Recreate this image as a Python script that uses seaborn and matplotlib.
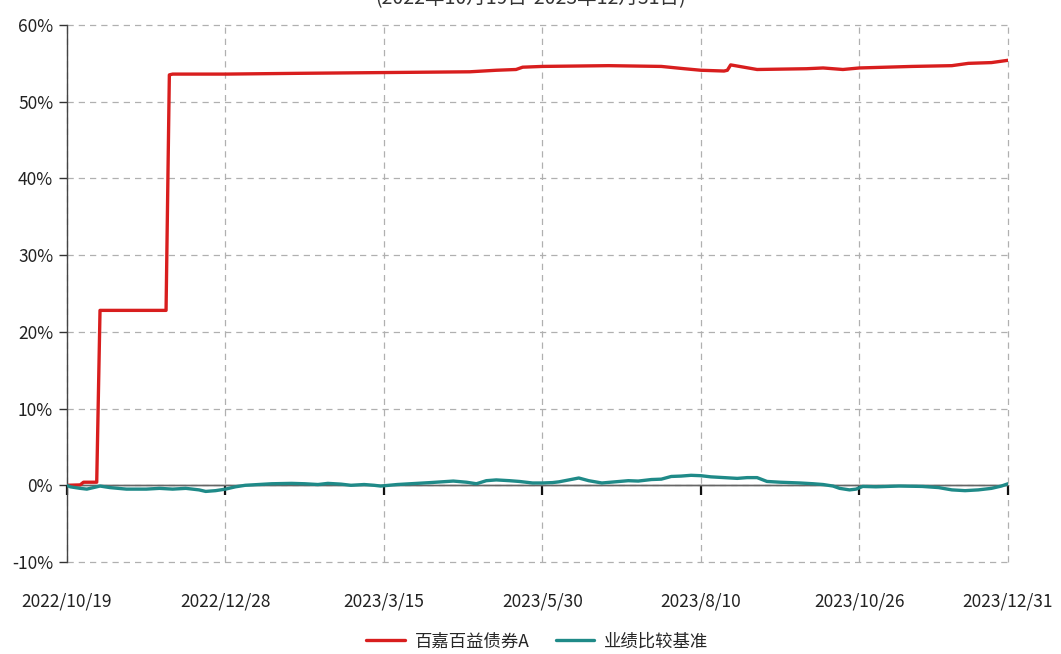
import matplotlib
matplotlib.use("Agg")
import matplotlib.pyplot as plt
import seaborn as sns
import pandas as pd

# ---- data (trading-day index, cumulative return in %) ----
fund_name = "百嘉百益债券A"
bench_name = "业绩比较基准"

fund_idx = [0, 4, 5, 9, 10, 30, 31, 32, 48, 70, 96, 122, 130, 136, 138, 144, 164,
            180, 187, 192, 199, 200, 201, 209, 224, 229, 235, 240, 256, 268, 273, 280, 285]
fund_val = [0.0, 0.05, 0.4, 0.4, 22.8, 22.8, 53.5, 53.6, 53.6, 53.7, 53.8, 53.9, 54.1,
            54.2, 54.5, 54.6, 54.7, 54.6, 54.3, 54.1, 54.0, 54.1, 54.8, 54.2, 54.3, 54.4,
            54.2, 54.4, 54.6, 54.7, 55.0, 55.1, 55.4]

bench_idx = [0, 1, 4, 6, 8, 10, 13, 18, 24, 28, 32, 36, 40, 42, 45, 48, 51, 54, 58, 62,
             68, 72, 76, 79, 83, 86, 90, 93, 95, 100, 104, 110, 117, 121, 124, 127, 130,
             134, 137, 141, 144, 147, 149, 152, 155, 158, 162, 166, 170, 173, 177, 180,
             183, 186, 189, 192, 195, 199, 203, 206, 209, 212, 216, 222, 226, 229, 232,
             234, 237, 239, 241, 245, 252, 259, 264, 268, 272, 276, 280, 283, 285]
bench_val = [0.0, -0.2, -0.4, -0.5, -0.3, -0.1, -0.3, -0.5, -0.5, -0.4, -0.5, -0.4, -0.6,
             -0.8, -0.7, -0.5, -0.2, 0.0, 0.1, 0.2, 0.25, 0.2, 0.1, 0.25, 0.15, 0.0, 0.1,
             0.0, -0.1, 0.1, 0.2, 0.35, 0.55, 0.4, 0.2, 0.6, 0.7, 0.6, 0.5, 0.3, 0.3, 0.35,
             0.45, 0.7, 0.95, 0.6, 0.3, 0.45, 0.6, 0.55, 0.75, 0.8, 1.15, 1.2, 1.3, 1.25,
             1.1, 1.0, 0.9, 1.0, 1.0, 0.5, 0.4, 0.3, 0.2, 0.1, -0.1, -0.4, -0.6, -0.5,
             -0.15, -0.2, -0.1, -0.15, -0.3, -0.6, -0.7, -0.6, -0.4, -0.1, 0.2]

tick_pos = [0, 48, 96, 144, 192, 240, 285]
tick_labels = ["2022/10/19", "2022/12/28", "2023/3/15", "2023/5/30",
               "2023/8/10", "2023/10/26", "2023/12/31"]
y_ticks = [-10, 0, 10, 20, 30, 40, 50, 60]
title = "(2022年10月19日-2023年12月31日)"

# ---- build frame ----
df = pd.concat([
    pd.DataFrame({"idx": fund_idx, "val": fund_val, "series": fund_name}),
    pd.DataFrame({"idx": bench_idx, "val": bench_val, "series": bench_name}),
], ignore_index=True)

sns.set_theme(style="white")
plt.rcParams["font.family"] = ["Noto Sans CJK SC", "DejaVu Sans"]
plt.rcParams["axes.unicode_minus"] = False

fig = plt.figure(figsize=(10.61, 6.54), dpi=100)
ax = fig.add_axes([67 / 1061, 1 - 562 / 654, (1008 - 67) / 1061, (562 - 25) / 654])

palette = {fund_name: "#d81e1e", bench_name: "#1f8a88"}
sns.lineplot(data=df, x="idx", y="val", hue="series", palette=palette,
             linewidth=2.4, ax=ax, hue_order=[fund_name, bench_name], zorder=3)

ax.set_xlim(0, 285)
ax.set_ylim(-10, 60)
ax.set_xlabel("")
ax.set_ylabel("")

ax.set_yticks(y_ticks)
ax.set_yticklabels([f"{v}%" for v in y_ticks], fontsize=12.5, color="#222222")
ax.set_xticks(tick_pos)
ax.set_xticklabels(tick_labels, fontsize=12.5, color="#222222")
ax.tick_params(axis="x", length=0, pad=22)
ax.tick_params(axis="y", length=6, width=1, color="#333333", direction="out", pad=4, left=True)

ax.set_axisbelow(True)
ax.grid(True, color="#b0b0b0", linestyle=(0, (5, 4)), linewidth=0.9)
for gl in ax.get_ygridlines() + ax.get_xgridlines():
    gl.set_clip_on(False)
for s in ["top", "right", "bottom"]:
    ax.spines[s].set_visible(False)
ax.spines["left"].set_color("#444444")
ax.spines["left"].set_linewidth(1.0)

# zero reference line with tick marks
ax.axhline(0, color="#666666", linewidth=1.0, zorder=1.9)
sec = ax.secondary_xaxis(1 / 7)
sec.set_xticks(tick_pos)
sec.set_xticklabels([])
sec.tick_params(axis="x", length=7, width=1.6, color="#111111", direction="out")
sec.spines["bottom"].set_color("#666666")
sec.spines["bottom"].set_linewidth(1.0)
sec.set_zorder(1)

sns.move_legend(ax, "center", bbox_to_anchor=(0.5, -0.148), ncol=2,
                frameon=False, title=None, fontsize=12.5, handlelength=2.2,
                columnspacing=1.5, handletextpad=0.6)

fig.text(0.5, 1 - 4 / 654, title, ha="center", va="baseline", fontsize=14, color="#333333")

fig.savefig("out.png", dpi=100, facecolor="white")
